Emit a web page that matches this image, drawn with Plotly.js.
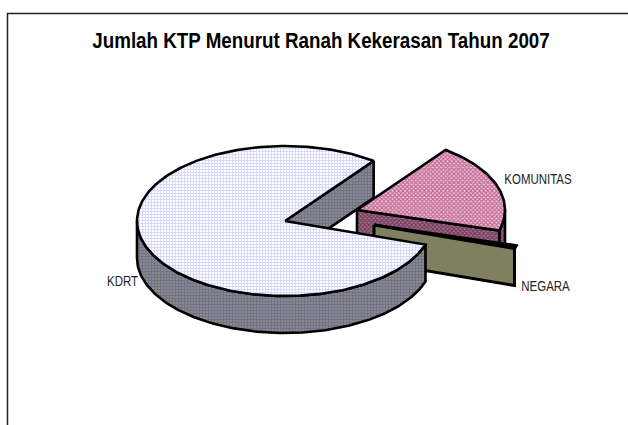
<!DOCTYPE html>
<html><head><meta charset="utf-8">
<script src="https://cdn.plot.ly/plotly-3.0.1.min.js"></script>
<style>html,body{margin:0;padding:0;background:#fff}#c{width:628px;height:425px}</style>
</head><body><div id="c"></div>
<script>
var chartTitle = "Jumlah KTP Menurut Ranah Kekerasan Tahun 2007";
var categories = ["KOMUNITAS", "NEGARA", "KDRT"];
var shares = [19.2, 0.67, 80.13];

// drawing constants for the tilted pie
var startAngle = 53.2, rx = 148, ry = 75, depth = 37;
var centerX = [357, 374, 285], centerY = [210, 225, 221];
var labelX = [538, 545.5, 122.5], labelY = [181, 288, 283];
var titleNarrow = 0.835, labelNarrow = 0.82;

function pt(i, deg, drop) {
  var r = deg * Math.PI / 180;
  return [centerX[i] + rx * Math.cos(r), centerY[i] - ry * Math.sin(r) + (drop || 0)];
}
function arc(i, a, b, drop) {
  var out = [], n = Math.max(2, Math.ceil(Math.abs(b - a)));
  for (var k = 0; k <= n; k++) out.push(pt(i, a + (b - a) * k / n, drop));
  return out;
}
function poly(points, fill, pattern, lw) {
  var closed = points.concat([points[0]]);
  var t = {
    type: "scatter", mode: "lines", fill: "toself", hoverinfo: "skip", showlegend: false,
    x: closed.map(function (p) { return p[0]; }),
    y: closed.map(function (p) { return p[1]; }),
    line: { color: "#000", width: lw || 2.6, shape: "linear" },
    fillcolor: fill
  };
  if (pattern) t.fillpattern = pattern;
  return t;
}
var spans = [], acc = startAngle;
shares.forEach(function (v) { var sweep = v / 100 * 360; spans.push([acc, acc - sweep]); acc -= sweep; });

var topPat = [
  { shape: "x", bgcolor: "#f7c4dc", fgcolor: "#7e0f48", size: 3, solidity: 0.62, fillmode: "overlay" },
  null,
  { shape: "+", bgcolor: "#ffffff", fgcolor: "#aaaaff", size: 3, solidity: 0.5, fillmode: "overlay" }
];
var sidePat = [
  { shape: "x", bgcolor: "#a87090", fgcolor: "#3a0a24", size: 3, solidity: 0.62, fillmode: "overlay" },
  null,
  { shape: "+", bgcolor: "#8a8a8a", fgcolor: "#55558c", size: 3, solidity: 0.5, fillmode: "overlay" }
];
var topFill = ["#f7c4dc", "#808060", "#ffffff"];
var sideFill = ["#a87090", "#808060", "#8a8a8a"];

function radialWall(i, deg, lw) {
  return poly([[centerX[i], centerY[i]], pt(i, deg), pt(i, deg, depth), [centerX[i], centerY[i] + depth]], sideFill[i], sidePat[i], lw);
}
function outerWall(i, a, b) {
  return poly(arc(i, a, b, 0).concat(arc(i, b, a, depth)), sideFill[i], sidePat[i]);
}
function topFace(i, lw) {
  return poly([[centerX[i], centerY[i]]].concat(arc(i, spans[i][0], spans[i][1], 0)), topFill[i], topPat[i], lw);
}

var traces = [
  radialWall(2, spans[2][1]),
  outerWall(0, 0, spans[0][1]),
  radialWall(0, spans[0][1]),
  topFace(0),
  topFace(1, 3),
  radialWall(1, spans[1][1], 3),
  outerWall(2, -180, spans[2][0]),
  topFace(2),
  { type: "scatter", mode: "text", x: labelX, y: labelY, text: categories, hoverinfo: "skip", showlegend: false,
    textposition: "middle center", textfont: { family: "Liberation Sans, Arial, sans-serif", size: 14, color: "#222" } }
];

var layout = {
  width: 628, height: 425, margin: { l: 0, r: 0, t: 0, b: 0 },
  paper_bgcolor: "#fff", plot_bgcolor: "#fff", showlegend: false,
  title: { text: "<b>" + chartTitle + "</b>", x: 321 / 628, xanchor: "center", y: 1 - 40 / 425, yanchor: "middle",
    font: { family: "Liberation Sans, Arial, sans-serif", size: 22.5, color: "#000" } },
  xaxis: { range: [0, 628], visible: false, fixedrange: true },
  yaxis: { range: [425, 0], visible: false, fixedrange: true },
  shapes: [
    { type: "line", x0: 7.5, x1: 7.5, y0: 13, y1: 425, line: { color: "#222", width: 1.5 } },
    { type: "line", x0: 7, x1: 628, y0: 13.5, y1: 13.5, line: { color: "#222", width: 1.5 } }
  ]
};
function condense(el, f) {
  // the reference uses a condensed face: narrow the real text about its own centre
  var cx = parseFloat(el.getAttribute("x")) || 0;
  var prior = el.getAttribute("transform") || "";
  el.setAttribute("transform", prior + " translate(" + cx + ",0) scale(" + f + ",1) translate(" + (-cx) + ",0)");
}
Plotly.newPlot("c", traces, layout, { displayModeBar: false, staticPlot: true }).then(function (gd) {
  gd.querySelectorAll(".gtitle").forEach(function (el) { condense(el, titleNarrow); });
  gd.querySelectorAll(".textpoint text").forEach(function (el) { condense(el, labelNarrow); });
});
</script></body></html>
